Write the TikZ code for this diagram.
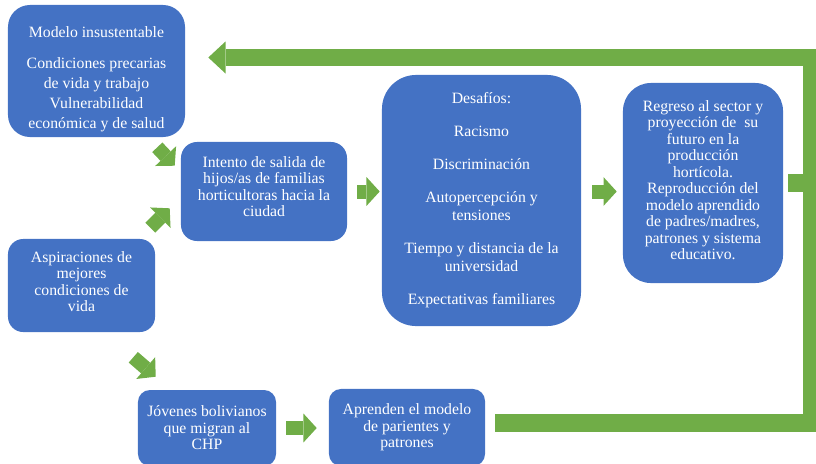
\documentclass[tikz,border=0pt]{standalone}
\usepackage{fontspec}
\setmainfont{Liberation Serif}
\usetikzlibrary{arrows.meta, calc}
\definecolor{dgblue}{HTML}{4472C4}
\definecolor{dggreen}{HTML}{70AD47}

\begin{document}
\begin{tikzpicture}[
    x=0.025cm, y=0.025cm,
    box/.style={rectangle, fill=dgblue, text=white, align=center, inner sep=1pt, font=\fontsize{11.2}{11.7}\selectfont},
    flow/.style={dggreen, line width=0.35cm, -{Triangle[width=0.72cm, length=0.33cm, line width=0pt]}},
    loopline/.style={dggreen, line width=0.43cm}
]
\useasboundingbox (0,0) rectangle (816,-463);
\clip (0,0) rectangle (816,-463);

% Boxes
\node[box, minimum width=4.425cm, minimum height=3.3cm, rounded corners=0.55cm, font=\fontsize{11.2}{14.2}\selectfont] (modelo) at (96.5,-71) {\rule{0pt}{19pt}Modelo insustentable\\[7.8pt] Condiciones precarias\\ de vida y trabajo\\ Vulnerabilidad\\ económica y de salud};
\node[box, minimum width=4.15cm, minimum height=2.475cm, rounded corners=0.4cm] (intento) at (264,-191.5) {Intento de salida de\\ hijos/as de familias\\ horticultoras hacia la\\ ciudad\rule[-7pt]{0pt}{7pt}};
\node[box, minimum width=3.675cm, minimum height=2.325cm, rounded corners=0.38cm] (aspira) at (81.5,-285.5) {Aspiraciones de\\ mejores\\ condiciones de\\ vida\rule[-5.7pt]{0pt}{5.7pt}};
\node[box, minimum width=4.975cm, minimum height=6.275cm, rounded corners=0.85cm, font=\fontsize{11.2}{12.8}\selectfont] (desafios) at (481.5,-200.5) {Desafíos:\\[10.7pt] Racismo\\[10.7pt] Discriminación\\[10.7pt] Autopercepción y\\ tensiones\\[10.7pt] Tiempo y distancia de la\\ universidad\\[10.7pt] Expectativas familiares};
\node[box, minimum width=4cm, minimum height=5cm, rounded corners=0.7cm] (regreso) at (703,-183) {Regreso al sector y\\ proyección de\ \ su\\ futuro en la\\ producción\\ hortícola.\\ Reproducción del\\ modelo aprendido\\ de padres/madres,\\ patrones y sistema\\ educativo.\rule[-4.3pt]{0pt}{4.3pt}};
\node[box, minimum width=3.45cm, minimum height=1.9cm, rounded corners=0.3cm] (jovenes) at (207,-428) {Jóvenes bolivianos\\ que migran al\\ CHP};
\node[box, minimum width=3.9cm, minimum height=1.925cm, rounded corners=0.3cm] (aprenden) at (407,-427.5) {Aprenden el modelo\\ de parientes y\\ patrones};

% Short arrows
\draw[flow, shorten <=0.25cm, shorten >=0.05cm] (intento.east) -- (intento.east -| desafios.west);
\draw[flow, shorten <=0.275cm, shorten >=0.15cm] (desafios.east |- intento.east) -- (regreso.west |- intento.east);
\draw[flow, shorten <=0.25cm, shorten >=0.3cm] (jovenes.east) -- (jovenes.east -| aprenden.west);
\draw[flow] ($(modelo.south east)+(-28,-10)$) -- ($(intento.north west)+(-6,-24)$);
\draw[flow] ($(aspira.north east)+(-5,11)$) -- ($(intento.south west)+(-11,33)$);
\draw[flow] ($(aspira.south east)+(-22,-25)$) -- ($(jovenes.north west)+(18,13)$);

% Feedback loop
\coordinate (rtop) at (811.5,-57.5);
\coordinate (rbot) at (811.5,-422.5);
\draw[loopline, line width=0.45cm, shorten <=0.25cm] (rbot -| aprenden.east) -- (rbot) -- (rtop |- regreso.east);
\draw[loopline, shorten <=0.125cm, shorten >=0.575cm, -{Triangle[width=0.8cm, length=0.43cm, line width=0pt]}] (regreso.east) -| (rtop) -- (rtop -| modelo.east);

\end{tikzpicture}
\end{document}
